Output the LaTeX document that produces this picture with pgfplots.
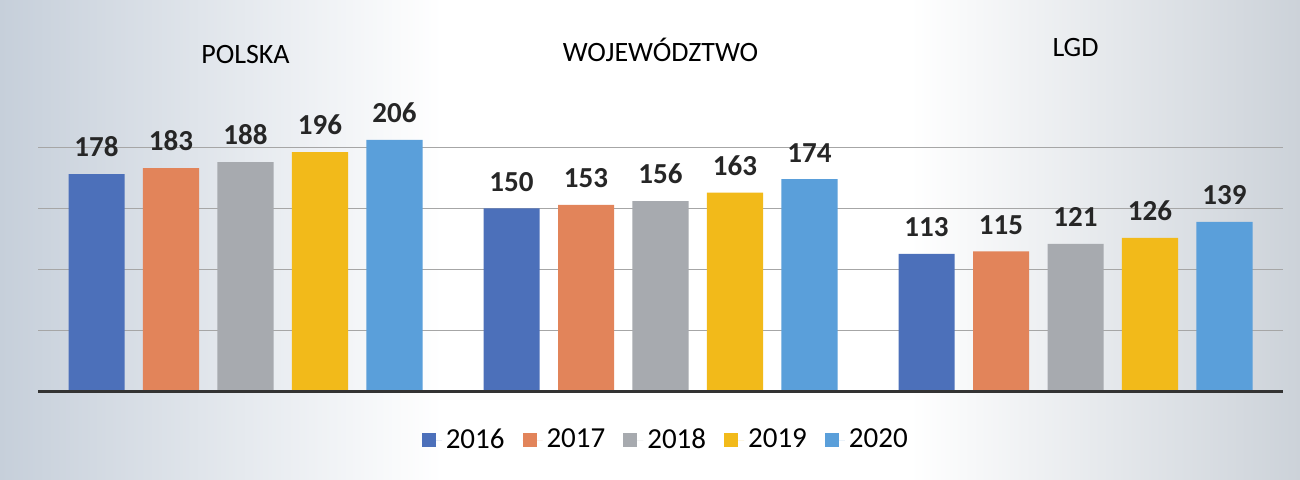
\documentclass[border=0pt]{standalone}
\usepackage{fontspec}
\setmainfont{Carlito}
\usepackage{pgfplots}
\pgfplotsset{compat=1.18}

\definecolor{c16}{HTML}{4C70BA}
\definecolor{c17}{HTML}{E2845A}
\definecolor{c18}{HTML}{A7AAAF}
\definecolor{c19}{HTML}{F2BA1A}
\definecolor{c20}{HTML}{5A9FDA}
\definecolor{bgl}{HTML}{C6CFDA}
\definecolor{bgr}{HTML}{CCD2D9}

\pgfdeclarehorizontalshading{scanbg}{100bp}{color(0bp)=(bgl); color(25bp)=(bgl); color(42bp)=(white); color(60bp)=(white); color(75bp)=(bgr); color(100bp)=(bgr)}

\pgfplotsset{
  yearbar/.style={draw=none, fill=#1,
    legend image code/.code={\fill[#1] (0pt,-3.5pt) rectangle (7pt,3.5pt); \path (0pt,0pt) -- (10pt,0pt);}},
}

\begin{document}
\begin{tikzpicture}
\begin{axis}[
    set layers,
    ybar,
    scale only axis, width=622.5pt, height=183.5pt,
    xmin=-0.5, xmax=2.5, ymin=0, ymax=300,
    axis line style={draw=none},
    xtick=\empty, ytick={50,100,150,200}, yticklabels={},
    major tick length=0pt,
    ymajorgrids, grid style={black!35, line width=0.5pt},
    bar width=0.135,
    clip=false,
    /pgf/number format/assume math mode=true,
    nodes near coords,
    nodes near coords style={font=\bfseries\fontsize{14.5}{14.5}\selectfont, anchor=south, yshift=5pt, text=black!85},
    legend style={at={(0.505,-0.131)}, anchor=center, legend columns=5,
      draw=none, fill=none, font=\fontsize{14.5}{14.5}\selectfont,
      /tikz/every even column/.append style={column sep=7pt}},
]
  \begin{pgfonlayer}{axis background}
    \path[shading=scanbg]
      (rel axis cs:0,0) ++(-19pt,-44pt) rectangle ++(650pt,240pt);
  \end{pgfonlayer}

  \addplot[yearbar=c16, bar shift=-0.359] coordinates {(0,178) (1,150) (2,113)};
  \addlegendentry{2016}
  \addplot[yearbar=c17, bar shift=-0.1795] coordinates {(0,183) (1,153) (2,115)};
  \addlegendentry{2017}
  \addplot[yearbar=c18, bar shift=0] coordinates {(0,188) (1,156) (2,121)};
  \addlegendentry{2018}
  \addplot[yearbar=c19, bar shift=0.1795] coordinates {(0,196) (1,163) (2,126)};
  \addlegendentry{2019}
  \addplot[yearbar=c20, bar shift=0.359] coordinates {(0,206) (1,174) (2,139)};
  \addlegendentry{2020}

  \draw[line width=1.5pt, black!80] (rel axis cs:0,0) -- (rel axis cs:1,0);

  \node[font=\fontsize{14}{14}\selectfont] at (axis cs:0,276) {POLSKA};
  \node[font=\fontsize{14}{14}\selectfont] at (axis cs:1,280) {WOJEWÓDZTWO};
  \node[font=\fontsize{14}{14}\selectfont] at (axis cs:2,282) {LGD};
\end{axis}
\end{tikzpicture}
\end{document}
